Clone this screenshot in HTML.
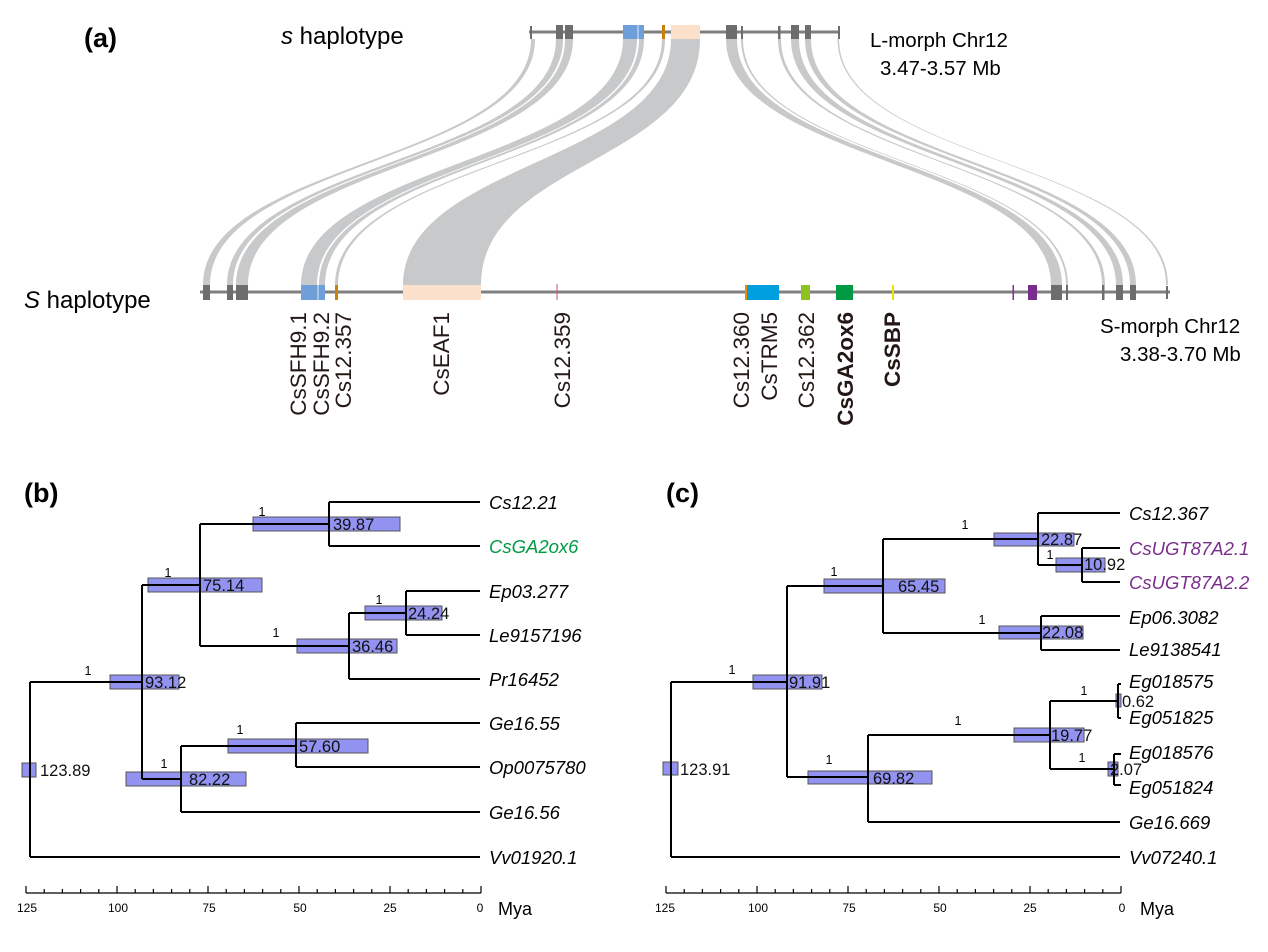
<!DOCTYPE html>
<html><head><meta charset="utf-8"><style>
html,body{margin:0;padding:0;background:#fff}
svg{display:block;font-family:"Liberation Sans",Arial,sans-serif}
</style></head><body>
<svg width="1268" height="952" viewBox="0 0 1268 952" xmlns="http://www.w3.org/2000/svg">
<!-- Panel a -->
<text x="84" y="47" font-size="27" font-weight="bold">(a)</text>
<text x="281" y="44" font-size="24"><tspan font-style="italic">s</tspan> haplotype</text>
<text x="24" y="308" font-size="24"><tspan font-style="italic">S</tspan> haplotype</text>
<text x="870" y="47" font-size="20.5">L-morph Chr12</text>
<text x="880" y="75" font-size="20.5">3.47-3.57 Mb</text>
<text x="1100" y="333" font-size="20.5">S-morph Chr12</text>
<text x="1120" y="361" font-size="20.5">3.38-3.70 Mb</text>

<g fill="#c8c9ca">
<path d="M531,39 C531,162 203,162 203,285 L210,285 C210,162 535,162 535,39Z"/>
<path d="M556,39 C556,162 227,162 227,285 L233,285 C233,162 563,162 563,39Z"/>
<path d="M565,39 C565,162 236,162 236,285 L248,285 C248,162 573,162 573,39Z"/>
<path d="M623,39 C623,162 301,162 301,285 L317,285 C317,162 637,162 637,39Z"/>
<path d="M639,39 C639,162 319,162 319,285 L325,285 C325,162 644,162 644,39Z"/>
<path d="M662,39 C662,162 335,162 335,285 L338,285 C338,162 665,162 665,39Z"/>
<path d="M671,39 C671,162 403,162 403,285 L481,285 C481,162 700,162 700,39Z"/>
<path d="M726,39 C726,162 1051,162 1051,285 L1062,285 C1062,162 737,162 737,39Z"/>
<path d="M741,39 C741,162 1066,162 1066,285 L1068,285 C1068,162 743,162 743,39Z"/>
<path d="M778,39 C778,162 1102,162 1102,285 L1105,285 C1105,162 781,162 781,39Z"/>
<path d="M791,39 C791,162 1116,162 1116,285 L1123,285 C1123,162 799,162 799,39Z"/>
<path d="M805,39 C805,162 1130,162 1130,285 L1136,285 C1136,162 811,162 811,39Z"/>
<path d="M837.5,39 C837.5,162 1166,162 1166,285 L1168,285 C1168,162 839,162 839,39Z"/>
</g>

<!-- top chromosome -->
<rect x="529" y="30.5" width="311" height="3" fill="#7f7f7f"/>
<g fill="#6d6d6d">
<rect x="530" y="26" width="2" height="13"/>
<rect x="556" y="25" width="7" height="14"/>
<rect x="565" y="25" width="8" height="14"/>
<rect x="726" y="25" width="11" height="14"/>
<rect x="741" y="26" width="2" height="13"/>
<rect x="778" y="26" width="2.5" height="13"/>
<rect x="791" y="25" width="8" height="14"/>
<rect x="805" y="25" width="6" height="14"/>
<rect x="838" y="26" width="2" height="13"/>
</g>
<rect x="623" y="25" width="21" height="14" fill="#6f9fd8"/>
<rect x="637.5" y="25" width="1" height="14" fill="#dde9f6"/>
<rect x="662" y="25" width="3" height="14" fill="#c8820a"/>
<rect x="671" y="25" width="29" height="14" fill="#fbe0cb"/>

<!-- bottom chromosome -->
<rect x="200" y="290.5" width="970" height="3" fill="#7f7f7f"/>
<g fill="#6d6d6d">
<rect x="203" y="285" width="7" height="15"/>
<rect x="227" y="285" width="6" height="15"/>
<rect x="236" y="285" width="12" height="15"/>
<rect x="1051" y="285" width="11" height="15"/>
<rect x="1066" y="285" width="2" height="15"/>
<rect x="1102" y="285" width="2.5" height="15"/>
<rect x="1116" y="285" width="7" height="15"/>
<rect x="1130" y="285" width="6" height="15"/>
<rect x="1166" y="286" width="2" height="13"/>
</g>
<rect x="301" y="285" width="24" height="15" fill="#6f9fd8"/>
<rect x="317.5" y="285" width="1" height="15" fill="#dde9f6"/>
<rect x="335" y="285" width="3" height="15" fill="#c8820a"/>
<rect x="403" y="285" width="78" height="15" fill="#fbe0cb"/>
<rect x="556.5" y="284" width="1" height="16" fill="#d04b8c"/>
<rect x="745" y="285" width="2" height="15" fill="#f08a00"/>
<rect x="747" y="285" width="32" height="15" fill="#00a0e0"/>
<rect x="801" y="285" width="9" height="15" fill="#8dc21f"/>
<rect x="836" y="285" width="17" height="15" fill="#009a44"/>
<rect x="892" y="285" width="2" height="15" fill="#e6e600"/>
<rect x="1012.5" y="285" width="1.5" height="15" fill="#8a2c96"/>
<rect x="1028" y="285" width="9" height="15" fill="#7b2d8e"/>

<!-- gene labels -->
<g font-size="22.5" text-anchor="end" fill="#231815">
<text transform="translate(306,312) rotate(-90)">CsSFH9.1</text>
<text transform="translate(329,312) rotate(-90)">CsSFH9.2</text>
<text transform="translate(351,312) rotate(-90)">Cs12.357</text>
<text transform="translate(449,312) rotate(-90)">CsEAF1</text>
<text transform="translate(570,312) rotate(-90)">Cs12.359</text>
<text transform="translate(749,312) rotate(-90)">Cs12.360</text>
<text transform="translate(777,312) rotate(-90)">CsTRM5</text>
<text transform="translate(814,312) rotate(-90)">Cs12.362</text>
<text transform="translate(853,312) rotate(-90)" font-weight="bold">CsGA2ox6</text>
<text transform="translate(900,312) rotate(-90)" font-weight="bold">CsSBP</text>
</g>

<!-- Panel b -->
<text x="24" y="502" font-size="27" font-weight="bold">(b)</text>
<g fill="#8c8cf0" stroke="#555" stroke-width="1" fill-opacity="0.95">
<rect x="253" y="517" width="147" height="14"/>
<rect x="148" y="578" width="114" height="14"/>
<rect x="365" y="606" width="77" height="14"/>
<rect x="297" y="639" width="100" height="14"/>
<rect x="110" y="675" width="69" height="14"/>
<rect x="228" y="739" width="140" height="14"/>
<rect x="126" y="772" width="120" height="14"/>
<rect x="22" y="763" width="14" height="14"/>
</g>
<path fill="none" stroke="#000" stroke-width="2" d="
M30,682V857 M30,682H142 M30,857H480
M142,585V779 M142,585H200 M142,779H181
M200,524V646 M200,524H329 M200,646H349
M329,502V546 M329,502H480 M329,546H480
M349,613V679 M349,613H406 M349,679H480
M406,591V635 M406,591H480 M406,635H480
M181,746V812 M181,746H296 M181,812H480
M296,723V767 M296,723H480 M296,767H480"/>
<g font-size="16.5" fill="#111">
<text x="333" y="530">39.87</text>
<text x="203" y="591">75.14</text>
<text x="408" y="619">24.24</text>
<text x="352" y="652">36.46</text>
<text x="145" y="688">93.12</text>
<text x="299" y="752">57.60</text>
<text x="189" y="785">82.22</text>
<text x="40" y="776">123.89</text>
</g>
<g font-size="12.5" text-anchor="middle">
<text x="262" y="516">1</text><text x="168" y="577">1</text><text x="379" y="604">1</text>
<text x="276" y="637">1</text><text x="88" y="675">1</text><text x="240" y="734">1</text><text x="164" y="768">1</text>
</g>
<g font-size="18.5" font-style="italic">
<text x="489" y="509">Cs12.21</text>
<text x="489" y="553" fill="#009a44">CsGA2ox6</text>
<text x="489" y="598">Ep03.277</text>
<text x="489" y="642">Le9157196</text>
<text x="489" y="686">Pr16452</text>
<text x="489" y="730">Ge16.55</text>
<text x="489" y="774">Op0075780</text>
<text x="489" y="819">Ge16.56</text>
<text x="489" y="864">Vv01920.1</text>
</g>
<!-- axis b -->
<path fill="none" stroke="#000" stroke-width="1.2" d="M26,893H481
M26,886V893 M117,886V893 M208,886V893 M299,886V893 M390,886V893 M481,886V893
M44.2,889V893 M62.4,889V893 M80.6,889V893 M98.8,889V893
M135.2,889V893 M153.4,889V893 M171.6,889V893 M189.8,889V893
M226.2,889V893 M244.4,889V893 M262.6,889V893 M280.8,889V893
M317.2,889V893 M335.4,889V893 M353.6,889V893 M371.8,889V893
M408.2,889V893 M426.4,889V893 M444.6,889V893 M462.8,889V893"/>
<g font-size="12" text-anchor="middle">
<text x="27" y="912">125</text><text x="118" y="912">100</text><text x="209" y="912">75</text>
<text x="300" y="912">50</text><text x="390" y="912">25</text><text x="480" y="912">0</text>
</g>
<text x="498" y="915" font-size="18">Mya</text>

<!-- Panel c -->
<text x="666" y="502" font-size="27" font-weight="bold">(c)</text>
<g fill="#8c8cf0" stroke="#555" stroke-width="1" fill-opacity="0.95">
<rect x="994" y="533" width="80" height="13"/>
<rect x="1056" y="558" width="49" height="14"/>
<rect x="824" y="579" width="121" height="14"/>
<rect x="999" y="626" width="84" height="13"/>
<rect x="753" y="675" width="69" height="14"/>
<rect x="1116" y="694" width="5" height="13"/>
<rect x="1014" y="728" width="70" height="14"/>
<rect x="1108" y="762" width="10" height="14"/>
<rect x="808" y="771" width="124" height="13"/>
<rect x="663" y="762" width="15" height="13"/>
</g>
<path fill="none" stroke="#000" stroke-width="2" d="
M671,682V857 M671,682H787 M671,857H1120
M787,586V777 M787,586H883 M787,777H868
M883,539V633 M883,539H1038 M883,633H1041
M1038,513V565 M1038,513H1120 M1038,565H1082
M1082,548V582 M1082,548H1120 M1082,582H1120
M1041,616V650 M1041,616H1120 M1041,650H1120
M868,735V822 M868,735H1050 M868,822H1120
M1050,701V769 M1050,701H1118 M1050,769H1114
M1118,684V718 M1118,684H1121 M1118,718H1121
M1114,754V785 M1114,754H1121 M1114,785H1121"/>
<g font-size="16.5" fill="#111">
<text x="1041" y="545">22.87</text>
<text x="1084" y="570">10.92</text>
<text x="898" y="592">65.45</text>
<text x="1042" y="638">22.08</text>
<text x="789" y="688">91.91</text>
<text x="1122" y="707">0.62</text>
<text x="1051" y="741">19.77</text>
<text x="1110" y="775">2.07</text>
<text x="873" y="784">69.82</text>
<text x="680" y="775">123.91</text>
</g>
<g font-size="12.5" text-anchor="middle">
<text x="965" y="529">1</text><text x="834" y="576">1</text><text x="1050" y="559">1</text>
<text x="982" y="624">1</text><text x="732" y="674">1</text><text x="958" y="725">1</text>
<text x="1084" y="695">1</text><text x="1082" y="762">1</text><text x="829" y="764">1</text>
</g>
<g font-size="18.5" font-style="italic">
<text x="1129" y="520">Cs12.367</text>
<text x="1129" y="555" fill="#7b2d8e">CsUGT87A2.1</text>
<text x="1129" y="589" fill="#7b2d8e">CsUGT87A2.2</text>
<text x="1129" y="624">Ep06.3082</text>
<text x="1129" y="656">Le9138541</text>
<text x="1129" y="688">Eg018575</text>
<text x="1129" y="724">Eg051825</text>
<text x="1129" y="759">Eg018576</text>
<text x="1129" y="794">Eg051824</text>
<text x="1129" y="829">Ge16.669</text>
<text x="1129" y="864">Vv07240.1</text>
</g>
<path fill="none" stroke="#000" stroke-width="1.2" d="M666,893H1121
M666,886V893 M757,886V893 M848,886V893 M939,886V893 M1030,886V893 M1121,886V893
M684.2,889V893 M702.4,889V893 M720.6,889V893 M738.8,889V893
M775.2,889V893 M793.4,889V893 M811.6,889V893 M829.8,889V893
M866.2,889V893 M884.4,889V893 M902.6,889V893 M920.8,889V893
M957.2,889V893 M975.4,889V893 M993.6,889V893 M1011.8,889V893
M1048.2,889V893 M1066.4,889V893 M1084.6,889V893 M1102.8,889V893"/>
<g font-size="12" text-anchor="middle">
<text x="665" y="912">125</text><text x="758" y="912">100</text><text x="849" y="912">75</text>
<text x="940" y="912">50</text><text x="1030" y="912">25</text><text x="1122" y="912">0</text>
</g>
<text x="1140" y="915" font-size="18">Mya</text>
</svg>
</body></html>
